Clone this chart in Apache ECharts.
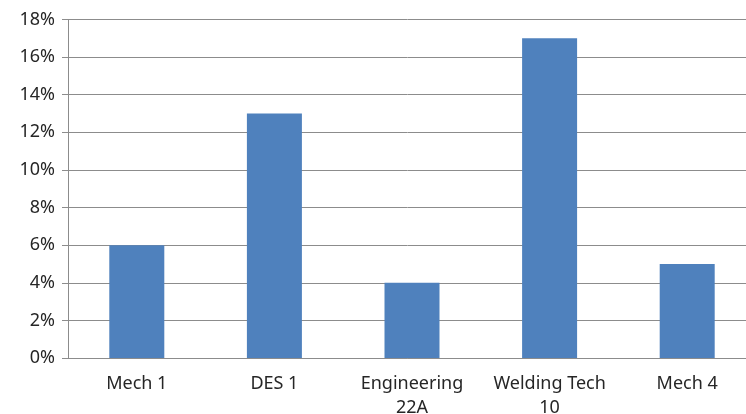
<!DOCTYPE html>
<html>
<head>
<meta charset="utf-8">
<script src="https://cdn.jsdelivr.net/npm/echarts@6/dist/echarts.min.js"></script>
<style>html,body{margin:0;padding:0;background:#fff}#c{width:746px;height:414px}</style>
</head>
<body>
<div id="c"></div>
<script>
const categories = ["Mech 1", "DES 1", "Engineering\n22A", "Welding Tech\n10", "Mech 4"];
const values = [6, 13, 4, 17, 5];
const yTicks = [0, 2, 4, 6, 8, 10, 12, 14, 16, 18];

const chart = echarts.init(document.getElementById('c'));
chart.setOption({
  animation: false,
  grid: { left: 68, right: -10, top: 19.5, bottom: 56, containLabel: false, outerBoundsMode: 'none' },
  xAxis: {
    type: 'category',
    data: categories,
    axisLine: { lineStyle: { color: '#8c8c8c', width: 1 } },
    axisTick: { show: false },
    axisLabel: { color: '#262626', fontSize: 18, fontFamily: 'Noto Sans', margin: 14, lineHeight: 24, interval: 0 }
  },
  yAxis: {
    type: 'value',
    min: yTicks[0],
    max: yTicks[yTicks.length - 1],
    interval: 2,
    axisLine: { show: true, lineStyle: { color: '#8c8c8c', width: 1 } },
    axisTick: { show: true, length: 6, lineStyle: { color: '#8c8c8c' } },
    splitLine: { lineStyle: { color: '#8c8c8c', width: 1 } },
    axisLabel: { color: '#262626', fontSize: 18, fontFamily: 'Noto Sans', margin: 13, formatter: v => v + '%' }
  },
  series: [{
    type: 'bar',
    data: values,
    barWidth: 55,
    itemStyle: { color: '#4F81BD' }
  }]
});
</script>
</body>
</html>
